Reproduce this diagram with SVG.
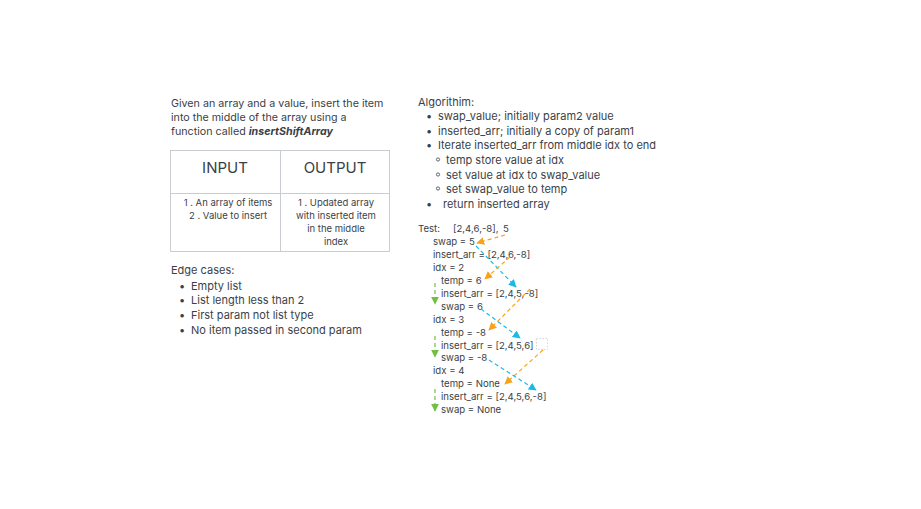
<svg xmlns="http://www.w3.org/2000/svg" width="921" height="509" viewBox="0 0 921 509">
<defs>
<style>
text{font-family:Inter,"Liberation Sans",sans-serif;fill:#3a3f47}
.p{font-size:11px}
.i{font-size:10.7px}
.t{font-size:9.6px}
.c{font-size:9.5px;text-anchor:middle}
.h{font-size:15px;text-anchor:middle}
.sb{fill:none;stroke:#3a3f47;stroke-width:0.8}
.o{stroke:#f7a21b;stroke-width:1.2;stroke-dasharray:4 3;fill:none}
.b{stroke:#1bb9e6;stroke-width:1.2;stroke-dasharray:4 3;fill:none}
.g{stroke:#72c043;stroke-width:1.2;stroke-dasharray:4 3;fill:none}
</style>
<marker id="mo" viewBox="0 0 10 10" refX="9" refY="5" markerWidth="8" markerHeight="8" markerUnits="userSpaceOnUse" orient="auto"><path d="M0,0L10,5L0,10z" fill="#f7a21b"/></marker>
<marker id="mb" viewBox="0 0 10 10" refX="9" refY="5" markerWidth="8" markerHeight="8" markerUnits="userSpaceOnUse" orient="auto"><path d="M0,0L10,5L0,10z" fill="#1bb9e6"/></marker>
<marker id="mg" viewBox="0 0 10 10" refX="9" refY="5" markerWidth="8" markerHeight="8" markerUnits="userSpaceOnUse" orient="auto"><path d="M0,0L10,5L0,10z" fill="#72c043"/></marker>
</defs>
<rect width="921" height="509" fill="#fff"/>
<g id="intro">
<text class="i" x="171" y="107">Given an array and a value, insert the item</text>
<text class="i" x="171" y="121">into the middle of the array using a</text>
<text class="i" x="171" y="135">function called <tspan font-weight="bold" font-style="italic">insertShiftArray</tspan></text>
</g>
<g id="table">
<rect x="170.5" y="150.5" width="219" height="101" fill="none" stroke="#c9cdd2" stroke-width="1"/>
<line x1="280.5" y1="150.5" x2="280.5" y2="251.5" stroke="#c9cdd2"/>
<line x1="170.5" y1="193.5" x2="389.5" y2="193.5" stroke="#c9cdd2"/>
<text class="h" x="225" y="173">INPUT</text>
<text class="h" x="335" y="173">OUTPUT</text>
<text class="c" x="228" y="206">1 . An array of items</text>
<text class="c" x="228" y="219">2 . Value to insert</text>
<text class="c" x="336" y="206">1 . Updated array</text>
<text class="c" x="336" y="219">with inserted item</text>
<text class="c" x="336" y="232">in the middle</text>
<text class="c" x="336" y="245">index</text>
</g>
<g id="edge-cases">
<text class="p" x="171" y="274">Edge cases:</text>
<text class="p" x="179" y="290">•</text><text class="p" x="191" y="290">Empty list</text>
<text class="p" x="179" y="304">•</text><text class="p" x="191" y="304">List length less than 2</text>
<text class="p" x="179" y="319">•</text><text class="p" x="191" y="319">First param not list type</text>
<text class="p" x="179" y="334">•</text><text class="p" x="191" y="334">No item passed in second param</text>
</g>
<g id="algorithm">
<text class="p" x="418" y="106">Algorithim:</text>
<text class="p" x="426" y="120">•</text><text class="p" x="438" y="120">swap_value; initially param2 value</text>
<text class="p" x="426" y="135">•</text><text class="p" x="438" y="135">inserted_arr; initially a copy of param1</text>
<text class="p" x="426" y="149">•</text><text class="p" x="438" y="149">Iterate inserted_arr from middle idx to end</text>
<circle class="sb" cx="438" cy="159.5" r="1.6"/><text class="p" x="446" y="164">temp store value at idx</text>
<circle class="sb" cx="438" cy="174.5" r="1.6"/><text class="p" x="446" y="179">set value at idx to swap_value</text>
<circle class="sb" cx="438" cy="188.5" r="1.6"/><text class="p" x="446" y="193">set swap_value to temp</text>
<text class="p" x="426" y="208">•</text><text class="p" x="443" y="208">return inserted array</text>
</g>
<g id="test">
<text class="t" x="418" y="232">Test:</text>
<text class="t" x="453" y="232">[2,4,6,-8],</text>
<text class="t" x="503" y="232">5</text>
<text class="t" x="433" y="245">swap = 5</text>
<text class="t" x="433" y="258">insert_arr = [2,4,6,-8]</text>
<text class="t" x="433" y="271">idx = 2</text>
<text class="t" x="441" y="284">temp = 6</text>
<text class="t" x="441" y="297">insert_arr = [2,4,5,-8]</text>
<text class="t" x="441" y="310">swap = 6</text>
<text class="t" x="433" y="323">idx = 3</text>
<text class="t" x="441" y="336">temp = -8</text>
<text class="t" x="441" y="349">insert_arr = [2,4,5,6]</text>
<text class="t" x="441" y="361">swap = -8</text>
<text class="t" x="433" y="374">idx = 4</text>
<text class="t" x="441" y="387">temp = None</text>
<text class="t" x="441" y="400">insert_arr = [2,4,5,6,-8]</text>
<text class="t" x="441" y="413">swap = None</text>
<rect x="536.5" y="338.5" width="11" height="11" fill="none" stroke="#d5d8dc" stroke-width="1" stroke-dasharray="1.5 1.5"/>
</g>
<g id="connectors">
<path class="o" d="M505,235L477,243" marker-end="url(#mo)"/>
<path class="b" d="M476,246L516,287" marker-end="url(#mb)"/>
<path class="o" d="M510,257L485,279" marker-end="url(#mo)"/>
<path class="g" d="M435,283L435,304" marker-end="url(#mg)"/>
<path class="o" d="M530,289L489,330" marker-end="url(#mo)"/>
<path class="b" d="M481,309L520,338" marker-end="url(#mb)"/>
<path class="g" d="M435,336L435,357" marker-end="url(#mg)"/>
<path class="o" d="M543,350L505,384" marker-end="url(#mo)"/>
<path class="b" d="M489,360L536,390" marker-end="url(#mb)"/>
<path class="g" d="M435,389L435,411" marker-end="url(#mg)"/>
</g>
</svg>
